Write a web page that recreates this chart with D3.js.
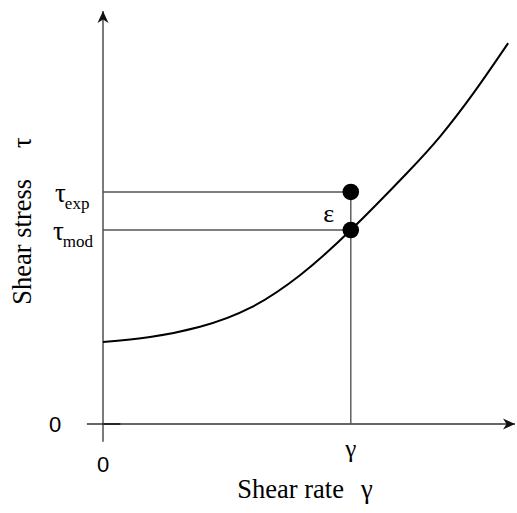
<!DOCTYPE html>
<html>
<head>
<meta charset="utf-8">
<script src="https://cdn.jsdelivr.net/npm/d3@7"></script>
<style>
  html, body { margin: 0; padding: 0; background: #fff; }
  svg { display: block; }
</style>
</head>
<body>
<div id="chart"></div>
<script>
// ---- data ----
const curveGamma = [0, 1.14, 2.35, 3.56, 4.77, 6.00, 7.35, 8.16, 8.97, 9.81];
const curveTau   = [2.00, 2.12, 2.37, 2.83, 3.63, 4.73, 6.11, 7.01, 8.07, 9.29];
const pointGamma = 6.0;
const tauExp = 5.66;
const tauMod = 4.73;
const xAxisExtent = [-0.39, 10.0];
const yAxisExtent = [-0.43, 10.1];
const xTickLabels = ["0", "γ"];
const yTickLabels = ["0"];
const xTitle = ["Shear rate", "γ"];
const yTitle = ["Shear stress", "τ"];

const W = 517, H = 513;
const xScale = d3.scaleLinear().domain([0, 10]).range([103, 516]);
const yScale = d3.scaleLinear().domain([0, 10]).range([424, 14]);

const SERIF = '"Liberation Serif"';
const SANS = '"Liberation Sans"';

const svg = d3.select("#chart").append("svg").attr("width", W).attr("height", H);

// ---- marks ----
svg.append("defs").append("marker")
  .attr("id", "arrow").attr("viewBox", "-12 -6 13 12")
  .attr("refX", 0).attr("refY", 0)
  .attr("markerWidth", 13).attr("markerHeight", 12)
  .attr("markerUnits", "userSpaceOnUse")
  .attr("orient", "auto")
  .append("path").attr("d", "M0,0 L-12,-5.5 L-8.5,0 L-12,5.5 Z").attr("fill", "#111");

const axisColor = "#333";
svg.append("line")
  .attr("x1", xScale(xAxisExtent[0])).attr("y1", yScale(0))
  .attr("x2", xScale(xAxisExtent[1]) - 1).attr("y2", yScale(0))
  .attr("stroke", axisColor).attr("stroke-width", 1.3)
  .attr("marker-end", "url(#arrow)");
svg.append("line")
  .attr("x1", xScale(0)).attr("y1", yScale(0))
  .attr("x2", xScale(0.42)).attr("y2", yScale(0))
  .attr("stroke", "#222").attr("stroke-width", 1.8);
svg.append("line")
  .attr("x1", xScale(0)).attr("y1", yScale(yAxisExtent[0]))
  .attr("x2", xScale(0)).attr("y2", yScale(yAxisExtent[1]) + 1)
  .attr("stroke", axisColor).attr("stroke-width", 1.3)
  .attr("marker-end", "url(#arrow)");

const guideColor = "#555";
[tauExp, tauMod].forEach(t => {
  svg.append("line")
    .attr("x1", xScale(0)).attr("y1", yScale(t))
    .attr("x2", xScale(pointGamma)).attr("y2", yScale(t))
    .attr("stroke", guideColor).attr("stroke-width", 1.4);
});
svg.append("line")
  .attr("x1", xScale(pointGamma)).attr("y1", yScale(tauExp))
  .attr("x2", xScale(pointGamma)).attr("y2", yScale(0))
  .attr("stroke", guideColor).attr("stroke-width", 1.4);

const curveData = curveGamma.map((g, i) => [g, curveTau[i]]);
svg.append("path")
  .datum(curveData)
  .attr("d", d3.line().x(d => xScale(d[0])).y(d => yScale(d[1])).curve(d3.curveNatural))
  .attr("fill", "none").attr("stroke", "#000").attr("stroke-width", 2);

[tauExp, tauMod].forEach(t => {
  svg.append("circle")
    .attr("cx", xScale(pointGamma)).attr("cy", yScale(t)).attr("r", 8.3)
    .attr("fill", "#000");
});

// ---- texts ----
const xt = svg.append("text")
  .attr("x", 305).attr("y", 498)
  .attr("text-anchor", "middle")
  .style("font-family", SERIF).attr("font-size", 26.5);
xt.append("tspan").text(xTitle[0]);
xt.append("tspan").attr("dx", 17).text(xTitle[1]);

const yt = svg.append("text")
  .attr("transform", "translate(31,221) rotate(-90)")
  .attr("text-anchor", "middle")
  .style("font-family", SERIF).attr("font-size", 26.5);
yt.append("tspan").text(yTitle[0]);
yt.append("tspan").attr("dx", 31).text(yTitle[1]);

svg.append("text")
  .attr("x", xScale(pointGamma) - 22).attr("y", yScale((tauExp + tauMod) / 2) + 11)
  .attr("text-anchor", "middle")
  .style("font-family", SERIF).attr("font-size", 26)
  .text("ε");

function tauLabel(t, sub, dx) {
  const g = svg.append("text")
    .attr("x", dx).attr("y", yScale(t) + 10)
    .style("font-family", SERIF).attr("font-size", 27);
  g.append("tspan").text("τ");
  g.append("tspan").attr("font-size", 17).attr("dy", 7).attr("dx", -1).text(sub);
}
tauLabel(tauExp, "exp", 55);
tauLabel(tauMod, "mod", 53);

svg.append("text")
  .attr("x", xScale(0) - 48).attr("y", yScale(0) + 8)
  .attr("text-anchor", "middle")
  .style("font-family", SANS).attr("font-size", 22)
  .text(yTickLabels[0]);
svg.append("text")
  .attr("x", xScale(0)).attr("y", yScale(0) + 48)
  .attr("text-anchor", "middle")
  .style("font-family", SANS).attr("font-size", 22)
  .text(xTickLabels[0]);
svg.append("text")
  .attr("x", xScale(pointGamma)).attr("y", yScale(0) + 33)
  .attr("text-anchor", "middle")
  .style("font-family", SERIF).attr("font-size", 25)
  .text(xTickLabels[1]);
</script>
</body>
</html>
